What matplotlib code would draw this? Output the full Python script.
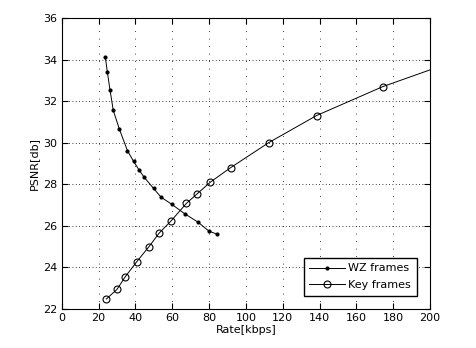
import matplotlib
matplotlib.use("Agg")
import matplotlib.pyplot as plt

# WZ frames
wz_rate = [23.7, 24.8, 26.2, 28.0, 31.3, 35.7, 39.0, 42.1, 44.7, 49.9,
           54.0, 59.9, 66.7, 74.0, 79.9, 84.4]
wz_psnr = [34.12, 33.40, 32.56, 31.56, 30.66, 29.62, 29.11, 28.68, 28.35, 27.80,
           27.38, 27.03, 26.59, 26.18, 25.75, 25.60]

# Key frames
key_rate = [24.2, 30.0, 34.5, 40.7, 47.4, 52.9, 59.4, 67.7, 73.5, 80.8,
            91.7, 112.5, 138.4, 174.3, 215.0]
key_psnr = [22.48, 22.94, 23.55, 24.27, 25.00, 25.65, 26.24, 27.08, 27.54, 28.11,
            28.80, 30.01, 31.31, 32.70, 33.98]

xticks = [0, 20, 40, 60, 80, 100, 120, 140, 160, 180, 200]
yticks = [22, 24, 26, 28, 30, 32, 34, 36]

plt.rcParams['font.family'] = ['DejaVu Sans']
fig = plt.figure(figsize=(4.76, 3.48), dpi=100)
ax = fig.add_axes([0.1296, 0.1121, 0.9034 - 0.1296, 0.948 - 0.1121])

ax.plot(wz_rate, wz_psnr, color='black', linewidth=0.7, marker='.',
        markersize=4, label='WZ frames')
ax.plot(key_rate, key_psnr, color='black', linewidth=0.7, marker='o',
        markersize=5, markerfacecolor='none', markeredgewidth=0.8,
        label='Key frames')

ax.set_xlim(0, 200)
ax.set_ylim(22, 36)
ax.set_xticks(xticks)
ax.set_yticks(yticks)
ax.tick_params(direction='in', length=4, width=0.8, labelsize=8,
               top=True, right=True, pad=3)
for sp in ax.spines.values():
    sp.set_linewidth(0.8)

ax.xaxis.grid(True, color='black', linestyle=(0, (1, 8)), linewidth=0.6)
ax.yaxis.grid(True, color='black', linestyle=(0, (1, 3)), linewidth=0.6)

ax.set_xlabel('Rate[kbps]', fontsize=8, labelpad=1)
ax.set_ylabel('PSNR[db]', fontsize=8, labelpad=3)

leg = ax.legend(loc='lower right', fontsize=8, frameon=True, fancybox=False,
                edgecolor='black', framealpha=1, borderaxespad=1.2,
                handlelength=3.2, borderpad=0.5, labelspacing=0.6,
                handletextpad=0.3)
leg.get_frame().set_linewidth(1.0)

fig.savefig('out.png', dpi=100)
